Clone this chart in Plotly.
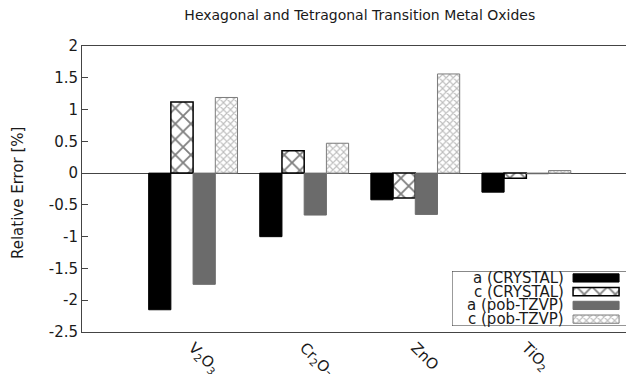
import plotly.graph_objects as go

categories = ["V<sub>2</sub>O<sub>3</sub>", "Cr<sub>2</sub>O<sub>3</sub>", "ZnO", "TiO<sub>2</sub>"]
cat_pos = [1, 2, 3, 4]
a_crystal = [-2.15, -1.00, -0.42, -0.30]
c_crystal = [1.12, 0.35, -0.39, -0.08]
a_pob = [-1.75, -0.66, -0.65, -0.01]
c_pob = [1.19, 0.47, 1.56, 0.04]
series_names = ["a (CRYSTAL)", "c (CRYSTAL)", "a (pob-TZVP)", "c (pob-TZVP)"]
y_tickvals = [2, 1.5, 1, 0.5, 0, -0.5, -1, -1.5, -2, -2.5]
y_ticktext = ["2", "1.5", "1", "0.5", "0", "-0.5", "-1", "-1.5", "-2", "-2.5"]

FONT = "DejaVu Sans"
GREY = "#6b6b6b"
LGREY = "#7c7c7c"
TXT = "#1a1a1a"

styles = [
    dict(color="black", line=dict(color="black", width=1)),
    dict(color="white", line=dict(color="black", width=1.5),
         pattern=dict(shape="x", size=11, solidity=0.3, fgcolor="black", bgcolor="white", fillmode="overlay")),
    dict(color=GREY, line=dict(color=GREY, width=1)),
    dict(color="white", line=dict(color=LGREY, width=1),
         pattern=dict(shape="x", size=5, solidity=0.4, fgcolor=LGREY, bgcolor="white", fillmode="overlay")),
]

fig = go.Figure()
for name, vals, st in zip(series_names, [a_crystal, c_crystal, a_pob, c_pob], styles):
    fig.add_trace(go.Bar(x=cat_pos, y=vals, name=name, marker=st, showlegend=False,
                         xaxis="x", yaxis="y"))

# manual gnuplot-style legend (text left, sample right)
for i, (name, st) in enumerate(zip(series_names, styles)):
    fig.add_trace(go.Bar(y=[i + 0.5], x=[0.26], base=[0.684], orientation="h", width=0.6,
                         marker=st, showlegend=False, xaxis="x2", yaxis="y2", hoverinfo="skip"))
    fig.add_annotation(x=0.644, y=i + 0.5, xref="x2", yref="y2", text=name, showarrow=False,
                       xanchor="right", yanchor="middle", font=dict(family=FONT, size=15, color=TXT))

fig.add_shape(type="rect", xref="x2", yref="y2", x0=0, x1=1, y0=0, y1=4,
              line=dict(color="#333", width=1), fillcolor="rgba(0,0,0,0)")

# y-axis title
fig.add_annotation(text="Relative Error [%]", xref="paper", yref="paper", x=-0.116, y=0.486,
                   textangle=-90, showarrow=False, xanchor="center", yanchor="middle",
                   font=dict(family=FONT, size=15, color=TXT))

fig.update_layout(
    width=626, height=366,
    margin=dict(l=74, r=1, t=38, b=42),
    paper_bgcolor="white", plot_bgcolor="white",
    font=dict(family=FONT, size=15, color=TXT),
    barmode="group", bargap=0.2, bargroupgap=0,
    title=dict(text="Hexagonal and Tetragonal Transition Metal Oxides", x=0.562, xanchor="center",
               xref="container", y=0.981, yanchor="middle", font=dict(family=FONT, size=14, color=TXT)),
    xaxis=dict(range=[0, 4.96], tickvals=cat_pos, ticktext=categories, tickangle=45,
               showline=True, mirror=True, linecolor="#444", linewidth=1, ticks="",
               showgrid=False, zeroline=False, tickfont=dict(size=15), automargin=False),
    yaxis=dict(range=[-2.5, 2], tickvals=y_tickvals, ticktext=y_ticktext, ticks="inside", ticklen=6,
               tickcolor="#444", showline=True, mirror="ticks", linecolor="#444", linewidth=1,
               showgrid=False, zeroline=True, zerolinecolor="#444", zerolinewidth=1, automargin=False,
               tickfont=dict(size=15)),
    xaxis2=dict(domain=[0.6715, 0.9927], range=[0, 1], anchor="y2", visible=False, fixedrange=True),
    yaxis2=dict(domain=[0.021, 0.213], range=[4, 0], anchor="x2", visible=False, fixedrange=True),
)

fig.write_html("out.html")
